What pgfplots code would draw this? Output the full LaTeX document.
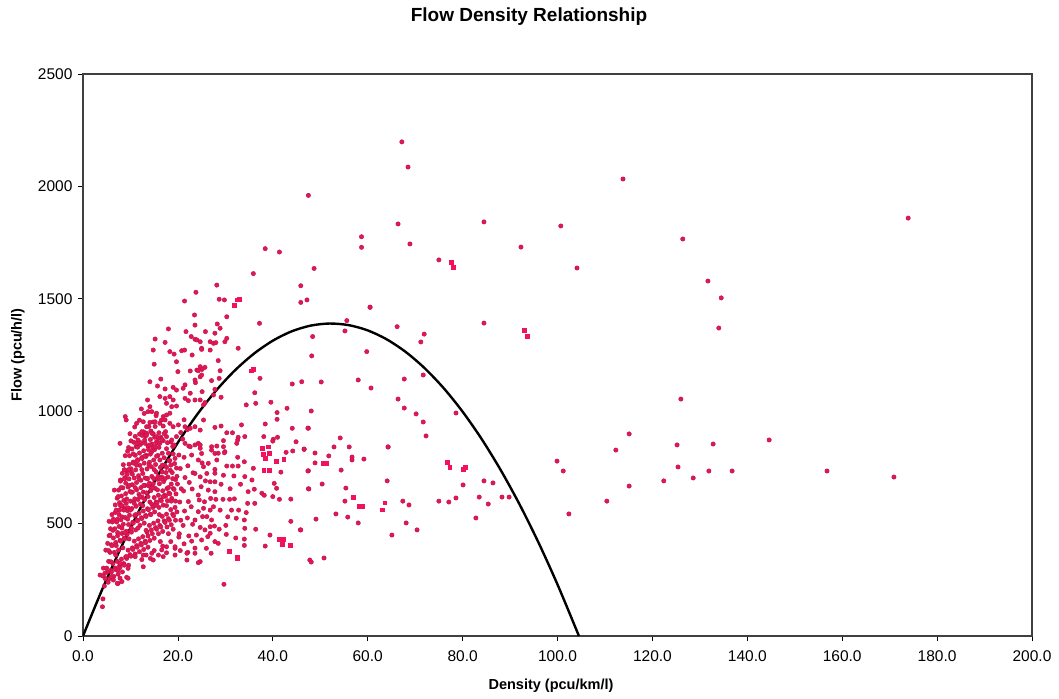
\documentclass[border=0pt]{standalone}
\usepackage{pgfplots}
\pgfplotsset{compat=1.18}
\usepackage{fontspec}
\setmainfont{Liberation Sans}
\definecolor{dotred}{RGB}{226,24,86}
\definecolor{dotedge}{RGB}{192,16,70}
\definecolor{sqred}{RGB}{242,18,92}
\begin{document}
\begin{tikzpicture}
\useasboundingbox (-83pt,-62pt) rectangle (976pt,636pt);
\begin{axis}[
  at={(0pt,0pt)}, anchor=south west,
  scale only axis, width=949pt, height=562pt,
  xmin=0, xmax=200, ymin=0, ymax=2500,
  xtick={0,20,...,200}, ytick={0,500,...,2500},
  tick align=outside, xtick pos=left, ytick pos=left,
  major tick length=5pt,
  tick style={black, line width=0.8pt},
  axis line style={black!75, line width=1.2pt},
  /pgf/number format/assume math mode=true,
  ticklabel style={font=\fontsize{15.5}{17}\selectfont},
  xticklabel style={yshift=-6pt, /pgf/number format/fixed, /pgf/number format/fixed zerofill, /pgf/number format/precision=1},
  yticklabel style={xshift=-2pt, /pgf/number format/fixed, /pgf/number format/1000 sep={}},
]
% dense cluster (estimated)
\addplot[only marks, mark=*, mark size=2.2pt, mark options={fill=dotred, draw=dotedge, line width=0.4pt}] coordinates {
(4.2,165)(4.5,222)(4.3,302)(4.7,255)(5.0,302)(4.8,382)(5.1,285)(5.4,332)(5.2,412)(5.5,446)
(5.6,255)(5.9,292)(5.7,372)(6.0,406)(5.8,477)(5.5,510)(6.0,285)(6.3,322)(6.1,402)(6.4,436)(6.2,507)
(6.5,265)(6.8,302)(6.6,372)(6.9,416)(6.7,477)(6.4,520)(6.8,583)(6.6,649)
(6.9,295)(7.2,332)(7.0,402)(7.3,446)(7.1,507)(6.8,550)(7.2,613)
(7.4,275)(7.7,312)(7.5,382)(7.8,426)(7.6,487)(7.3,520)(7.7,593)(7.5,649)(7.9,694)
(7.8,305)(8.1,342)(7.9,422)(8.2,456)(8.0,517)(7.7,560)(8.1,623)(7.9,689)(8.3,724)
(8.3,285)(8.6,322)(8.4,392)(8.7,436)(8.5,497)(8.2,530)(8.6,603)(8.4,659)(8.8,704)(8.5,762)
(8.7,315)(9.0,352)(8.8,432)(9.1,466)(8.9,527)(8.6,570)(9.0,633)(8.8,699)(9.2,734)(8.9,802)
(9.2,345)(9.5,382)(9.3,452)(9.6,496)(9.4,557)(9.1,590)(9.5,663)(9.3,719)(9.7,764)(9.4,822)
(9.6,315)(9.9,362)(9.7,432)(10.0,466)(9.8,537)(9.5,570)(9.9,643)(9.7,699)(10.1,744)(9.8,802)(9.6,838)
(10.1,355)(10.4,392)(10.2,462)(10.5,506)(10.3,567)(10.0,600)(10.4,673)(10.2,729)(10.6,774)(10.3,832)(10.1,868)
(10.5,385)(10.8,422)(10.6,502)(10.9,536)(10.7,597)(10.4,640)(10.8,703)(10.6,769)(11.0,804)(10.7,862)
(11.0,365)(11.3,402)(11.1,472)(11.4,516)(11.2,577)(10.9,610)(11.3,683)(11.1,739)(11.5,784)(11.2,842)(11.0,888)
(11.4,395)(11.7,432)(11.5,512)(11.8,546)(11.6,607)(11.3,650)(11.7,713)(11.5,779)(11.9,814)(11.6,872)
(11.9,375)(12.2,412)(12.0,492)(12.3,526)(12.1,587)(11.8,630)(12.2,693)(12.0,759)(12.4,794)(12.1,852)(11.9,898)
(12.3,405)(12.6,442)(12.4,522)(12.7,556)(12.5,617)(12.2,660)(12.6,723)(12.4,789)(12.8,824)(12.5,892)
(12.8,385)(13.1,422)(12.9,502)(13.2,536)(13.0,607)(12.7,640)(13.1,703)(12.9,769)(13.3,804)(13.0,872)(12.8,908)
(13.2,415)(13.5,462)(13.3,532)(13.6,566)(13.4,637)(13.1,670)(13.5,743)(13.3,799)(13.7,844)(13.4,902)
(13.7,445)(14.0,492)(13.8,562)(14.1,596)(13.9,667)(13.6,700)(14.0,773)(13.8,829)(14.2,874)(13.9,932)(13.7,998)
(14.1,425)(14.4,472)(14.2,542)(14.5,586)(14.3,647)(14.0,680)(14.4,753)(14.2,809)(14.6,854)(14.3,912)
(14.6,455)(14.9,502)(14.7,572)(15.0,616)(14.8,677)(14.5,710)(14.9,783)(14.7,839)(15.1,884)(14.8,952)
(15.0,435)(15.3,482)(15.1,552)(15.4,596)(15.2,657)(14.9,700)(15.3,763)(15.1,829)(15.5,864)(15.2,932)
(15.5,475)(15.8,512)(15.6,592)(15.9,626)(15.7,697)(15.4,730)(15.8,803)(15.6,859)(16.0,904)
(15.9,455)(16.2,492)(16.0,572)(16.3,606)(16.1,677)(15.8,710)(16.2,783)(16.0,839)(16.4,884)
(16.4,485)(16.7,532)(16.5,602)(16.8,646)(16.6,707)(16.3,750)(16.7,813)(16.5,879)(16.9,934)
(16.8,465)(17.1,512)(16.9,582)(17.2,626)(17.0,687)(16.7,730)(17.1,793)(16.9,869)
(17.3,505)(17.6,542)(17.4,622)(17.7,656)(17.5,727)(17.2,760)(17.6,833)(17.4,909)
(17.7,485)(18.0,522)(17.8,602)(18.1,636)(17.9,707)(17.6,750)(18.0,813)
(18.2,515)(18.5,562)(18.3,632)(18.6,676)(18.4,737)(18.1,780)(18.5,863)
(18.6,495)(18.9,542)(18.7,612)(19.0,656)(18.8,727)(18.5,760)(18.9,843)
(19.1,535)(19.4,572)(19.2,652)(19.5,696)(19.3,767)(19.0,810)
(19.5,515)(19.8,552)(19.6,632)(19.9,676)(19.7,747)(19.4,790)
(7.3,460)(7.6,540)(7.4,620)(7.9,580)(8.2,480)(8.0,660)(8.6,560)(8.8,460)(8.7,740)(9.0,680)(9.2,610)(9.4,520)(9.6,740)(9.8,670)(10.0,560)(10.2,480)(10.1,640)(10.4,720)(10.6,810)(10.8,590)(11.0,660)(11.1,540)(11.3,760)(11.5,840)(11.6,480)(11.8,700)(12.0,620)(12.2,860)(12.4,740)(12.6,580)(12.8,670)(13.0,800)(13.2,890)(13.3,470)(13.5,700)(13.7,620)(13.9,760)(14.1,950)(14.3,540)(14.5,820)(14.6,660)(14.8,900)(15.0,740)(15.2,580)(15.4,980)(15.5,800)(15.7,650)(15.9,880)(16.1,540)(16.3,700)(16.5,960)(16.7,760)(16.9,620)(17.1,900)(17.3,700)(17.6,580)(17.8,860)(18.0,660)(18.3,780)(18.6,600)(18.9,700)(19.2,850)(19.5,600)(19.8,710)(12.9,990)(13.6,1050)(11.9,960)(10.9,930)(9.9,900)(12.3,1010)(8.2,580)(7.0,560)(6.3,470)(6.1,540)(5.4,380)(6.9,360)(5.9,330)
(20.5,380)(20.3,455)(20.6,515)(20.4,596)(20.7,655)(20.5,745)(20.2,805)(20.6,905)
(21.3,410)(21.1,492)(21.4,556)(21.2,645)(21.5,705)(21.3,795)(21.0,876)(21.3,962)
(22.1,372)(22.3,445)(22.0,525)(22.2,598)(22.4,683)(22.1,757)(22.3,845)(22.0,918)
(22.9,422)(23.1,497)(22.8,575)(23.0,654)(23.2,726)(22.9,805)
(24.5,605)(25.8,690)(26.9,612)(25.1,770)(28.9,560)(29.6,715)(31.0,655)(30.5,530)(26.0,390)(31.9,610)(33.2,675)(32.8,560)(30.2,452)(27.0,368)
(12.4,340)(13.3,360)(14.2,345)(15.0,380)(15.9,360)(16.8,400)(17.6,370)(18.5,420)(19.4,390)(20.2,440)(13.7,395)(16.3,420)(18.0,455)(19.0,475)
(5.7,449)(3.6,271)(4.1,130)(4.6,279)(6.0,264)(7.4,234)(8.2,242)(9.2,261)(7.4,294)(9.5,301)(7.8,323)(12.7,308)(9.2,353)(11.0,353)(12.7,360)(14.5,368)(16.6,383)(19.4,360)(21.9,368)(23.6,368)(24.7,331)(19.4,397)(17.6,397)(4.2,267)(5.3,239)(6.4,249)(7.8,257)(7.2,234)(9.5,257)(14.8,338)(16.9,353)(21.9,338)
(22.8,1332)(23.6,1320)(24.7,1309)(15.2,1321)(17.3,1306)(25.0,1280)(14.8,1272)(18.3,1265)(19.2,1254)(20.8,1269)(21.4,1272)(19.7,1220)(23.0,1250)(15.0,1209)(24.7,1198)(24.0,1183)(22.6,1179)(20.0,1176)(16.4,1143)(14.1,1131)(21.5,1117)(21.1,1102)(19.0,1106)(19.7,1094)(15.7,1112)(17.3,1099)(23.7,1127)(24.7,1153)(22.6,1080)(16.2,1065)(17.3,1057)(18.3,1065)(19.0,1050)(17.6,1035)(18.7,1020)(19.7,1023)(21.5,1057)(22.2,1047)(24.7,1050)(25.4,1028)(14.1,1020)(14.5,998)(15.5,991)(16.9,976)(17.6,983)(18.3,991)(8.9,976)(9.1,961)(11.3,946)(12.7,953)(13.4,931)(15.2,953)(16.2,946)(17.3,961)(18.3,946)(19.0,931)(20.1,939)(21.5,931)(22.6,924)(23.6,931)(24.7,916)(12.4,909)(13.4,894)(14.5,902)(15.5,887)(16.6,872)(17.6,887)(18.7,872)(19.7,887)(7.8,857)(11.3,857)(13.1,857)(14.1,850)(15.2,842)(16.2,857)(21.5,857)(22.6,842)(23.6,850)(24.7,835)(18.0,1366)(21.7,1354)(23.6,1383)(23.5,1428)(21.4,1490)(23.8,1529)
(28.2,1561)(28.7,1498)(29.8,1495)(30.3,1420)(28.3,1388)(28.9,1369)(32.7,1280)(25.8,1354)(27.8,1347)(37.2,1391)(35.9,1612)(38.4,1723)(41.4,1708)(45.9,1558)(45.9,1484)(47.2,1495)(48.7,1635)(47.5,1960)(48.4,1332)(58.7,1776)(58.7,1729)(60.5,1462)(55.6,1403)(55.2,1357)(66.2,1376)
(30.3,1324)(29.9,1309)(24.0,1317)(26.8,1309)(27.5,1302)(28.0,1305)(26.8,1272)(25.0,1275)(28.5,1225)(25.7,1195)(25.1,1186)(24.3,1180)(28.9,1180)(27.1,1136)(28.7,1146)(23.6,1139)(25.0,1161)(27.8,1097)(27.5,1072)(29.1,1062)(25.1,1087)(23.6,1050)(25.7,1038)(25.4,961)(27.8,928)(29.1,934)(30.3,904)(31.5,904)(33.4,939)(32.7,884)(34.1,887)(29.6,869)(24.3,857)(28.2,845)(29.6,842)(32.4,857)(36.2,1082)(38.4,943)(39.6,1040)(34.4,1028)(36.4,1035)(37.3,1146)(44.1,1121)(43.0,1013)(40.9,994)(40.9,964)(44.1,924)(47.5,924)(48.2,1246)(46.1,1131)(38.1,887)(40.1,875)(41.0,884)
(24.7,850)(25.0,812)(27.1,842)(27.8,812)(29.9,820)(32.6,872)(24.3,783)(25.4,753)(26.4,768)(27.8,741)(23.6,723)(24.7,708)(26.1,723)(26.8,686)(24.9,664)(26.4,649)(24.3,627)(27.8,642)(25.6,597)(27.5,575)(24.3,553)(26.1,531)(23.6,516)(24.7,483)(23.9,449)(26.3,442)(25.0,427)(28.5,412)
(40.0,867)(42.8,817)(44.2,823)(46.6,830)(44.9,864)(41.7,729)(47.5,735)(40.3,679)(40.8,657)(40.0,620)(41.4,608)(43.8,609)(47.5,655)(43.8,510)(45.8,472)(39.4,449)(47.8,338)(36.4,475)(34.0,431)(32.2,436)(34.0,403)(38.4,400)(29.7,230)(24.3,326)(27.8,420)(27.7,489)(30.1,492)(34.1,479)(34.0,516)(34.4,549)(36.2,590)(34.7,590)(34.8,642)(37.7,635)(38.2,626)(36.1,653)(31.3,560)(32.3,524)(31.8,712)(34.1,709)(35.6,694)(35.9,746)(34.0,775)(32.6,795)(31.5,756)(32.7,756)(30.3,756)(29.5,608)(30.9,608)(28.0,608)(25.4,568)(26.8,560)(25.2,531)(27.1,516)(26.8,486)(26.8,457)(25.7,472)(23.6,391)(28.7,475)(29.1,675)(27.8,686)(27.8,724)(28.2,783)(27.1,827)(29.8,815)(28.5,813)
(50.2,1130)(58.0,1139)(60.7,1103)(48.1,1001)(47.4,925)(54.2,881)(46.6,832)(48.9,814)(52.9,841)(56.1,841)(51.8,801)(48.9,770)(56.7,796)(56.7,783)(59.2,787)(64.3,841)(47.4,734)(54.4,738)(50.4,676)(47.6,654)(55.4,658)(64.1,690)(55.2,600)(67.4,600)(68.7,583)(53.3,543)(55.8,529)(49.1,520)(58.0,503)(45.9,472)(68.1,503)(65.1,449)(70.4,472)(48.1,329)(50.8,347)(59.8,1265)
(67.2,2198)(68.5,2086)(113.8,2033)(173.9,1859)(66.4,1833)(68.9,1744)(84.5,1842)(100.7,1824)(92.3,1730)(104.1,1637)(126.4,1766)(131.7,1579)(134.5,1504)(134.0,1370)(75.0,1673)(84.5,1392)(71.9,1343)(71.2,1308)(67.7,1143)(71.7,1161)(66.4,1054)(126.0,1054)(60.5,1463)
(67.7,1014)(70.2,988)(71.7,952)(72.3,890)(78.6,992)(64.3,841)(80.1,672)(75.0,600)(77.1,596)(78.6,614)(83.5,618)(84.5,690)(86.4,681)(85.4,587)(82.8,525)(88.3,618)(89.8,618)(99.9,778)(101.2,734)(102.4,543)(110.4,600)(112.3,827)(115.1,899)(115.1,667)(122.4,690)(125.2,850)(125.4,752)(128.6,703)(131.9,734)(132.8,854)(136.8,734)(144.6,872)(156.8,734)(170.9,707)
};
% bright square markers
\addplot[only marks, mark=square*, mark size=1.9pt, color=sqred] coordinates {
(33.0,1498)(32.4,1496)(31.8,1472)(77.6,1664)(78.0,1641)(92.9,1361)(93.6,1335)(35.9,1186)(35.5,1180)(37.7,835)(39.1,842)(38.0,810)(39.2,813)(38.4,790)(38.1,738)(39.2,738)(40.8,778)(42.3,786)(41.4,431)(42.2,431)(42.0,410)(43.6,405)(30.8,379)(32.5,353)(32.5,344)(50.6,770)(51.2,770)(56.9,618)(58.2,578)(58.8,578)(63.6,593)(63.1,562)(76.7,774)(77.3,752)(80.1,743)(80.5,752)
};
% fitted flow-density curve
\addplot[black, line width=2.4pt, smooth] coordinates {
(0,0)(4,204.7)(8,393.0)(12,565.2)(16,721.0)(20,860.4)(24,983.6)(28,1090.6)(32,1181.2)(36,1255.5)(40,1313.6)(44,1355.4)(48,1380.8)(52,1390.0)(56,1382.8)(60,1359.5)(64,1319.7)(68,1263.7)(72,1191.4)(76,1102.8)(80,997.9)(84,876.7)(88,739.2)(92,585.6)(96,415.5)(100,229.1)(104,26.5)(104.5,0)
};
\end{axis}
\node[font=\bfseries\fontsize{19}{21}\selectfont] at (446pt,619pt) {Flow Density Relationship};
\node[font=\bfseries\fontsize{14.5}{16}\selectfont] at (468pt,-50pt) {Density (pcu/km/l)};
\node[font=\bfseries\fontsize{14.5}{16}\selectfont, rotate=90] at (-65pt,281pt) {Flow (pcu/h/l)};
\end{tikzpicture}
\end{document}
